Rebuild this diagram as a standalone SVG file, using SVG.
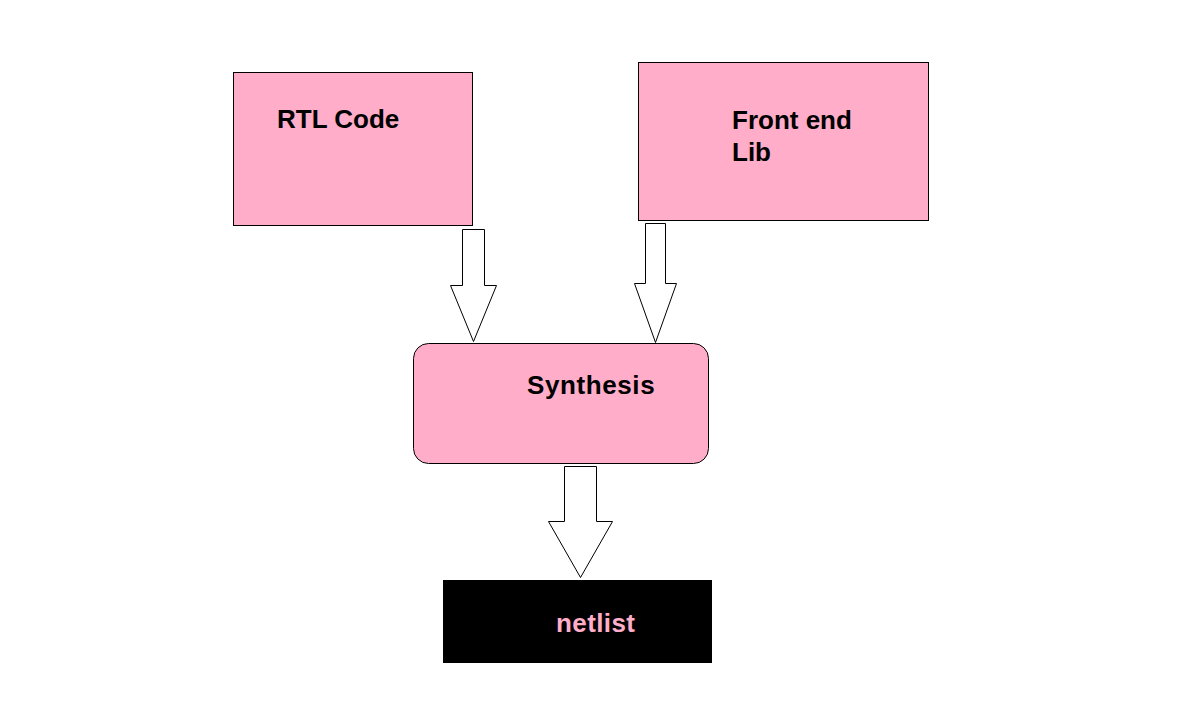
<svg xmlns="http://www.w3.org/2000/svg" width="1200" height="712" viewBox="0 0 1200 712">
<style>
.box{fill:#FFADC9;stroke:#000;stroke-width:1}
.lbl{font-family:"Liberation Sans",Arial,sans-serif;font-weight:bold;font-size:26px;fill:#000}
.arr{fill:#fff;stroke:#000;stroke-width:1}
</style>
<rect width="1200" height="712" fill="#fff"/>
<g id="connectors">
<polygon class="arr" points="462.5,229.5 484.5,229.5 484.5,285.5 496.5,285.5 473.5,341.5 450.5,285.5 462.5,285.5"/>
<polygon class="arr" points="645.5,223.5 665.5,223.5 665.5,283.5 676.5,283.5 655.5,342.5 634.5,283.5 645.5,283.5"/>
<polygon class="arr" points="564.5,466.5 596.5,466.5 596.5,521.5 612.5,521.5 580.5,577.5 548.5,521.5 564.5,521.5"/>
</g>
<g id="rtl">
<rect class="box" x="233.5" y="72.5" width="239" height="153"/>
<text class="lbl" x="277" y="128">RTL Code</text>
</g>
<g id="lib">
<rect class="box" x="638.5" y="62.5" width="290" height="158"/>
<text class="lbl" x="732" y="129">Front end</text>
<text class="lbl" x="732" y="161">Lib</text>
</g>
<g id="synthesis">
<rect class="box" x="413.5" y="343.5" width="295" height="120" rx="15" ry="15"/>
<text class="lbl" x="527" y="394" letter-spacing="0.6">Synthesis</text>
</g>
<g id="netlist">
<rect x="443" y="580" width="269" height="83" fill="#000"/>
<text class="lbl" x="556" y="632" letter-spacing="0.4" style="fill:#FFADC9">netlist</text>
</g>
</svg>
